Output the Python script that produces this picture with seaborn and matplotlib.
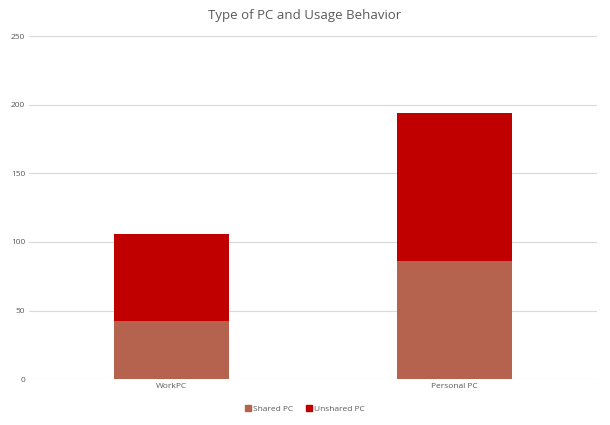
import pandas as pd
import matplotlib.pyplot as plt
import seaborn as sns
from matplotlib.patches import Patch


categories = ['WorkPC', 'Personal PC']
shared_pc = [42, 86]
unshared_pc = [64, 108]

SHARED_COLOR = '#B5634F'
UNSHARED_COLOR = '#C00000'
TEXT_COLOR = '#595959'

df = pd.DataFrame({'pc_type': categories,
                   'shared': shared_pc,
                   'unshared': unshared_pc})
df['total'] = df['shared'] + df['unshared']

sns.set_style('white')
plt.rcParams['font.family'] = ['Open Sans', 'DejaVu Sans']

fig = plt.figure(figsize=(6.1, 4.25), dpi=100)
ax = fig.add_axes([0.048, 0.108, 0.93, 0.807])

# stacked: draw total first, shared part on top of it
sns.barplot(data=df, x='pc_type', y='total', color=UNSHARED_COLOR,
            width=0.405, saturation=1, linewidth=0, ax=ax)
sns.barplot(data=df, x='pc_type', y='shared', color=SHARED_COLOR,
            width=0.405, saturation=1, linewidth=0, ax=ax)

ax.set_ylim(0, 250)
ax.set_yticks(range(0, 251, 50))
ax.set_xlim(-0.5, 1.5)
ax.yaxis.grid(True, color='#D9D9D9', linewidth=0.8)
ax.set_axisbelow(True)
for side in ['top', 'right', 'left', 'bottom']:
    ax.spines[side].set_visible(False)
ax.tick_params(axis='both', length=0, labelsize=6, labelcolor=TEXT_COLOR, pad=3)
ax.set_xlabel('')
ax.set_ylabel('')

fig.suptitle('Type of PC and Usage Behavior', fontsize=9.5, color=TEXT_COLOR, y=0.98)

handles = [Patch(color=SHARED_COLOR, label='Shared PC'),
           Patch(color=UNSHARED_COLOR, label='Unshared PC')]
fig.legend(handles=handles, loc='lower center', ncol=2, frameon=False,
           fontsize=6, labelcolor=TEXT_COLOR, handlelength=0.7, handleheight=0.7,
           handletextpad=0.3, columnspacing=1.5, bbox_to_anchor=(0.5, 0.01))

fig.savefig('out.png', dpi=100)
